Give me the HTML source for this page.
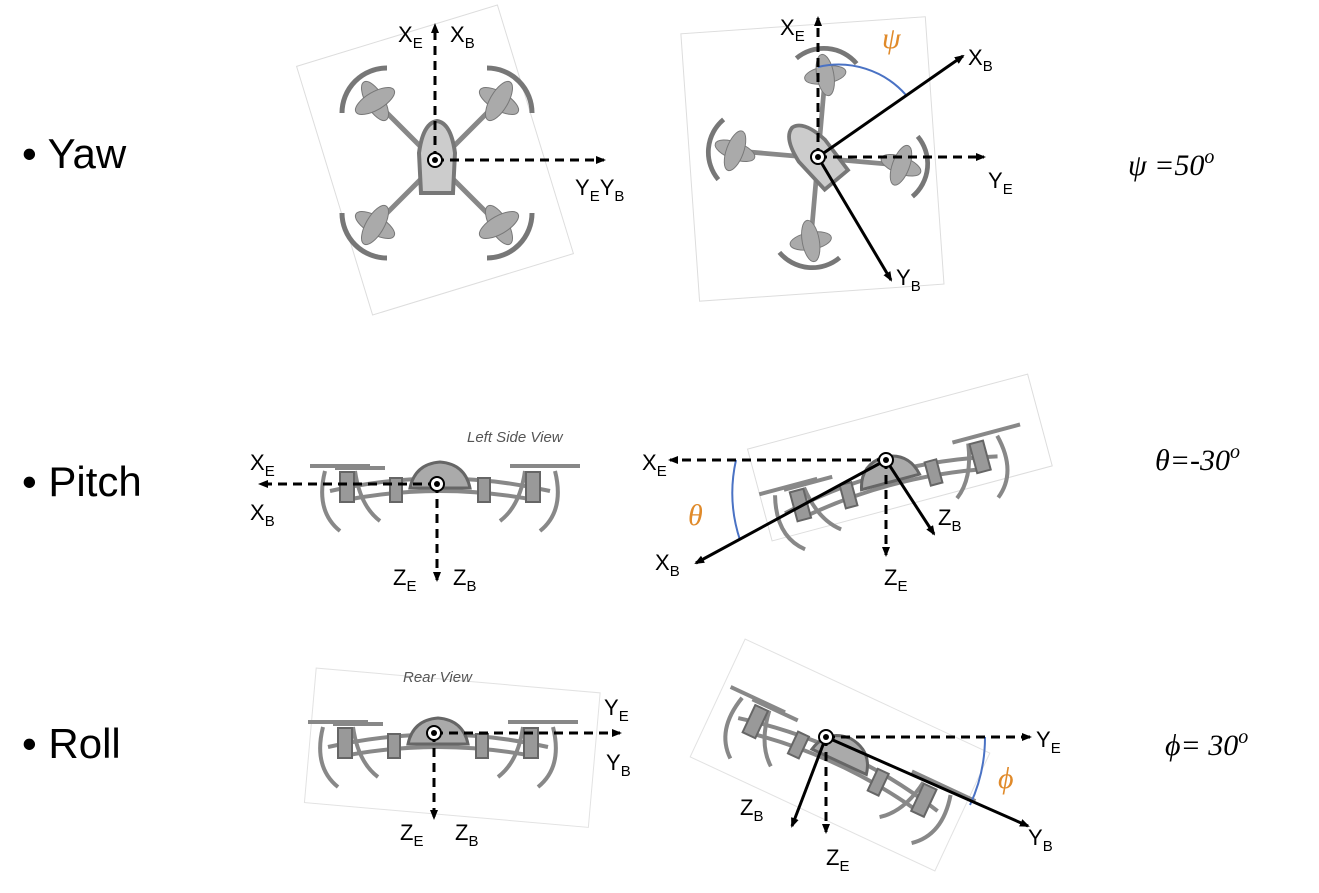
<!DOCTYPE html>
<html><head><meta charset="utf-8"><style>
html,body{margin:0;padding:0;background:#fff;}
svg{display:block;}
.lab{font-family:"Liberation Sans",sans-serif;font-size:22px;fill:#000;}
.sub{font-size:15px;}
.bul{font-family:"Liberation Sans",sans-serif;font-size:42px;fill:#000;}
.eq{font-family:"Liberation Serif",serif;font-style:italic;font-size:30px;fill:#000;}
.gr{font-family:"Liberation Serif",serif;font-style:italic;font-size:30px;fill:#e08a2a;}
.cap{font-family:"Liberation Sans",sans-serif;font-style:italic;font-size:15px;fill:#555;}
</style></head><body>
<svg width="1319" height="893" viewBox="0 0 1319 893" xmlns="http://www.w3.org/2000/svg">
<defs>
<marker id="ah" markerWidth="10" markerHeight="10" refX="8" refY="5" orient="auto" markerUnits="userSpaceOnUse">
<path d="M0,1 L10,5 L0,9 z" fill="#000"/></marker>
<g id="top">
 <g stroke="#888" stroke-width="5" fill="none">
  <line x1="-62" y1="-62" x2="62" y2="62"/><line x1="62" y1="-62" x2="-62" y2="62"/>
 </g>
 <g fill="#aaa" stroke="#777" stroke-width="1">
  <g transform="translate(-62,-62)"><ellipse rx="22" ry="9" transform="rotate(60)"/><ellipse rx="22" ry="9" transform="rotate(-30)"/></g>
  <g transform="translate(62,-62)"><ellipse rx="22" ry="9" transform="rotate(30)"/><ellipse rx="22" ry="9" transform="rotate(-60)"/></g>
  <g transform="translate(-62,62)"><ellipse rx="22" ry="9" transform="rotate(30)"/><ellipse rx="22" ry="9" transform="rotate(-60)"/></g>
  <g transform="translate(62,62)"><ellipse rx="22" ry="9" transform="rotate(60)"/><ellipse rx="22" ry="9" transform="rotate(-30)"/></g>
 </g>
 <g stroke="#777" stroke-width="5" fill="none">
  <path d="M-95,-50 A45,45 0 0 1 -50,-95"/><path d="M50,-95 A45,45 0 0 1 95,-50"/>
  <path d="M-95,50 A45,45 0 0 0 -50,95"/><path d="M50,95 A45,45 0 0 0 95,50"/>
 </g>
 <path d="M-16,30 L-18,-10 Q-14,-40 0,-42 Q14,-40 18,-10 L16,30 Z" fill="#ccc" stroke="#777" stroke-width="4"/>
</g>
<g id="side">
 <g stroke="#888" stroke-width="4" fill="none">
  <line x1="-130" y1="-20" x2="-70" y2="-20"/><line x1="70" y1="-20" x2="140" y2="-20"/>
  <line x1="-55" y1="-18" x2="-105" y2="-18"/>
  <path d="M-115,-15 Q-125,25 -100,45"/><path d="M-85,-15 Q-80,20 -60,35"/>
  <path d="M85,-15 Q80,20 60,35"/><path d="M115,-15 Q125,25 100,45"/>
  <path d="M-110,5 Q0,-20 110,5"/><path d="M-100,15 Q0,-5 100,15"/>
 </g>
 <g fill="#999" stroke="#666" stroke-width="2">
  <rect x="-100" y="-14" width="14" height="30"/><rect x="86" y="-14" width="14" height="30"/>
  <rect x="-50" y="-8" width="12" height="24"/><rect x="38" y="-8" width="12" height="24"/>
 </g>
 <path d="M-30,2 Q-25,-22 0,-24 Q25,-22 30,2 Z" fill="#aaa" stroke="#666" stroke-width="3"/>
</g>
<g id="ctr"><circle r="7" fill="#fff" stroke="#000" stroke-width="2"/><circle r="3" fill="#000"/></g>
</defs>

<text class="bul" x="22" y="168">• Yaw</text>
<text class="bul" x="22" y="496">• Pitch</text>
<text class="bul" x="22" y="758">• Roll</text>

<!-- Yaw left -->
<rect x="330" y="30" width="210" height="260" fill="none" stroke="#ddd" transform="rotate(-17 435 160)"/>
<use href="#top" transform="translate(437,163)"/>
<g stroke="#000" stroke-width="3" fill="none" stroke-dasharray="9,6">
 <line x1="435" y1="160" x2="435" y2="25" marker-end="url(#ah)"/>
 <line x1="435" y1="160" x2="604" y2="160" marker-end="url(#ah)"/>
</g>
<use href="#ctr" x="435" y="160"/>
<text class="lab" x="398" y="42">X<tspan class="sub" dy="6">E</tspan></text>
<text class="lab" x="450" y="42">X<tspan class="sub" dy="6">B</tspan></text>
<text class="lab" x="575" y="195">Y<tspan class="sub" dy="6">E</tspan><tspan dy="-6">Y</tspan><tspan class="sub" dy="6">B</tspan></text>

<!-- Yaw right -->
<rect x="690" y="25" width="245" height="268" fill="none" stroke="#ddd" transform="rotate(-4 812 160)"/>
<use href="#top" transform="translate(818,158) rotate(-40) scale(0.95)"/>
<path d="M818,67 A90,90 0 0 1 906,95" fill="none" stroke="#4a72c4" stroke-width="2"/>
<g stroke="#000" stroke-width="3" fill="none" stroke-dasharray="9,6">
 <line x1="818" y1="157" x2="818" y2="18" marker-end="url(#ah)"/>
 <line x1="818" y1="157" x2="984" y2="157" marker-end="url(#ah)"/>
</g>
<g stroke="#000" stroke-width="3" fill="none">
 <line x1="818" y1="157" x2="963" y2="56" marker-end="url(#ah)"/>
 <line x1="818" y1="157" x2="891" y2="280" marker-end="url(#ah)"/>
</g>
<use href="#ctr" x="818" y="157"/>
<text class="lab" x="780" y="35">X<tspan class="sub" dy="6">E</tspan></text>
<text class="gr" x="882" y="48">ψ</text>
<text class="lab" x="968" y="65">X<tspan class="sub" dy="6">B</tspan></text>
<text class="lab" x="988" y="188">Y<tspan class="sub" dy="6">E</tspan></text>
<text class="lab" x="896" y="285">Y<tspan class="sub" dy="6">B</tspan></text>
<text class="eq" x="1128" y="175">ψ =50<tspan font-size="20" dy="-12">o</tspan></text>

<!-- Pitch left -->
<text class="cap" x="467" y="442">Left Side View</text>
<use href="#side" transform="translate(440,486)"/>
<g stroke="#000" stroke-width="3" fill="none" stroke-dasharray="9,6">
 <line x1="437" y1="484" x2="260" y2="484" marker-end="url(#ah)"/>
 <line x1="437" y1="484" x2="437" y2="580" marker-end="url(#ah)"/>
</g>
<use href="#ctr" x="437" y="484"/>
<text class="lab" x="250" y="470">X<tspan class="sub" dy="6">E</tspan></text>
<text class="lab" x="250" y="520">X<tspan class="sub" dy="6">B</tspan></text>
<text class="lab" x="393" y="585">Z<tspan class="sub" dy="6">E</tspan></text>
<text class="lab" x="453" y="585">Z<tspan class="sub" dy="6">B</tspan></text>

<!-- Pitch right -->
<rect x="755" y="410" width="290" height="95" fill="none" stroke="#ddd" transform="rotate(-15 900 458)"/>
<use href="#side" transform="translate(890,480) rotate(-15)"/>
<path d="M736,460 A150,150 0 0 0 740,540" fill="none" stroke="#4a72c4" stroke-width="2"/>
<g stroke="#000" stroke-width="3" fill="none" stroke-dasharray="9,6">
 <line x1="886" y1="460" x2="670" y2="460" marker-end="url(#ah)"/>
 <line x1="886" y1="460" x2="886" y2="555" marker-end="url(#ah)"/>
</g>
<g stroke="#000" stroke-width="3" fill="none">
 <line x1="886" y1="460" x2="696" y2="563" marker-end="url(#ah)"/>
 <line x1="886" y1="460" x2="934" y2="534" marker-end="url(#ah)"/>
</g>
<use href="#ctr" x="886" y="460"/>
<text class="lab" x="642" y="470">X<tspan class="sub" dy="6">E</tspan></text>
<text class="gr" x="688" y="525">θ</text>
<text class="lab" x="655" y="570">X<tspan class="sub" dy="6">B</tspan></text>
<text class="lab" x="938" y="525">Z<tspan class="sub" dy="6">B</tspan></text>
<text class="lab" x="884" y="585">Z<tspan class="sub" dy="6">E</tspan></text>
<text class="eq" x="1155" y="470">θ=-30<tspan font-size="20" dy="-12">o</tspan></text>

<!-- Roll left -->
<rect x="310" y="680" width="285" height="135" fill="none" stroke="#e2e2e2" transform="rotate(5 450 745)"/>
<text class="cap" x="403" y="682">Rear View</text>
<use href="#side" transform="translate(438,742)"/>
<g stroke="#000" stroke-width="3" fill="none" stroke-dasharray="9,6">
 <line x1="434" y1="733" x2="620" y2="733" marker-end="url(#ah)"/>
 <line x1="434" y1="733" x2="434" y2="818" marker-end="url(#ah)"/>
</g>
<use href="#ctr" x="434" y="733"/>
<text class="lab" x="604" y="715">Y<tspan class="sub" dy="6">E</tspan></text>
<text class="lab" x="606" y="770">Y<tspan class="sub" dy="6">B</tspan></text>
<text class="lab" x="400" y="840">Z<tspan class="sub" dy="6">E</tspan></text>
<text class="lab" x="455" y="840">Z<tspan class="sub" dy="6">B</tspan></text>

<!-- Roll right -->
<rect x="705" y="690" width="270" height="130" fill="none" stroke="#e2e2e2" transform="rotate(25 840 755)"/>
<use href="#side" transform="translate(840,760) rotate(25)"/>
<path d="M985,737 A160,160 0 0 1 970,805" fill="none" stroke="#4a72c4" stroke-width="2"/>
<g stroke="#000" stroke-width="3" fill="none" stroke-dasharray="9,6">
 <line x1="826" y1="737" x2="1030" y2="737" marker-end="url(#ah)"/>
 <line x1="826" y1="737" x2="826" y2="832" marker-end="url(#ah)"/>
</g>
<g stroke="#000" stroke-width="3" fill="none">
 <line x1="826" y1="737" x2="1028" y2="826" marker-end="url(#ah)"/>
 <line x1="826" y1="737" x2="792" y2="826" marker-end="url(#ah)"/>
</g>
<use href="#ctr" x="826" y="737"/>
<text class="lab" x="1036" y="747">Y<tspan class="sub" dy="6">E</tspan></text>
<text class="gr" x="998" y="788">ϕ</text>
<text class="lab" x="1028" y="845">Y<tspan class="sub" dy="6">B</tspan></text>
<text class="lab" x="740" y="815">Z<tspan class="sub" dy="6">B</tspan></text>
<text class="lab" x="826" y="865">Z<tspan class="sub" dy="6">E</tspan></text>
<text class="eq" x="1165" y="755">ϕ= 30<tspan font-size="20" dy="-12">o</tspan></text>
</svg>
</body></html>
